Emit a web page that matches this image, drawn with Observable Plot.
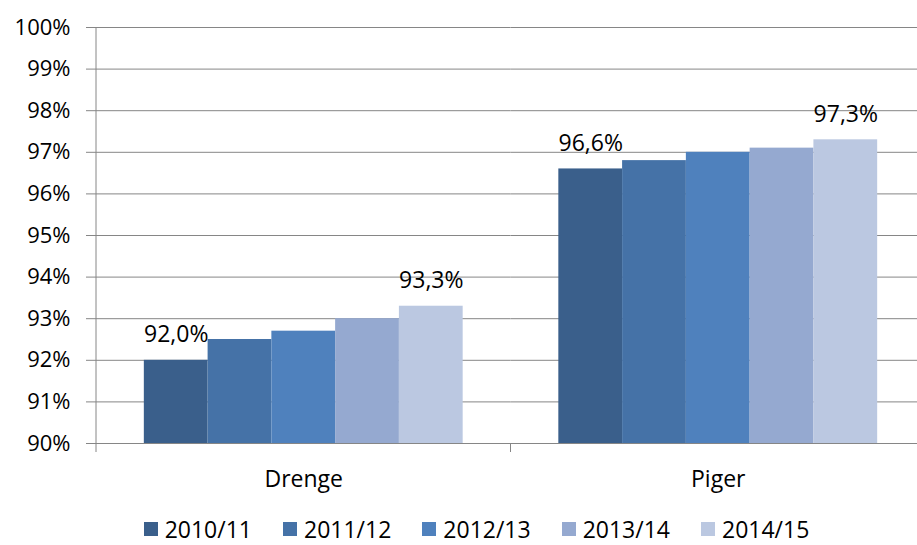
<!DOCTYPE html>
<html><head><meta charset="utf-8">
<script src="https://cdn.jsdelivr.net/npm/d3@7"></script>
<script src="https://cdn.jsdelivr.net/npm/@observablehq/plot@0.6"></script>
<style>
body{margin:0;background:#fff;font-family:"Open Sans",sans-serif;width:917px;}
#chart svg{display:block}
#legend{display:flex;justify-content:center;gap:31px;padding-top:16px;padding-left:36px;font-size:23px;color:#000}
.item{display:flex;align-items:center;white-space:nowrap}
.sw{width:14px;height:14px;margin-right:7px;flex:none}
</style></head><body><div id="chart"></div><div id="legend"></div>
<script>
const groups = ["Drenge", "Piger"];
const years = ["2010/11", "2011/12", "2012/13", "2013/14", "2014/15"];
const drenge = [92.0, 92.5, 92.7, 93.0, 93.3];
const piger = [96.6, 96.8, 97.0, 97.1, 97.3];
const yTicks = [90, 91, 92, 93, 94, 95, 96, 97, 98, 99, 100];
const colors = ["#3a5f8b", "#4572a7", "#4f81bd", "#95a9d0", "#bbc8e1"];
const labelledYears = ["2010/11", "2014/15"];

const series = {Drenge: drenge, Piger: piger};
const rows = [];
for (const g of groups) years.forEach((yr, i) => rows.push({group: g, year: yr, value: series[g][i]}));
const labels = rows.filter(d => labelledYears.includes(d.year));
const fmt = v => v.toFixed(1).replace(".", ",") + "%";

const grid = "#868686";
const chart = Plot.plot({
  width: 917, height: 497,
  marginTop: 27, marginBottom: 54, marginLeft: 96, marginRight: -8,
  style: {fontFamily: "'Open Sans', sans-serif", fontSize: "22px", color: "#000", background: "#fff", overflow: "visible"},
  fx: {domain: groups, padding: 0, round: false, label: null},
  x: {domain: years, paddingInner: 0, paddingOuter: 0.75, round: false, axis: null},
  y: {domain: [90, 100], label: null},
  color: {domain: years, range: colors},
  marks: [
    Plot.gridY(yTicks, {stroke: grid, strokeOpacity: 1}),
    Plot.barY(rows, {fx: "group", x: "year", y1: 90, y2: "value", fill: "year"}),
    Plot.ruleY([90], {stroke: grid}),
    Plot.text(labels, {fx: "group", x: "year", y: "value", text: d => fmt(d.value), lineAnchor: "bottom", dy: -18, fontSize: 23, fill: "#000"}),
    Plot.axisY(yTicks, {tickSize: 10, tickPadding: 16, tickFormat: d => d + "%", stroke: grid, fontSize: 22, label: null}),
    Plot.axisFx({anchor: "bottom", tickSize: 0, tickPadding: 27, fontSize: 23, label: null})
  ]
});
document.getElementById("chart").appendChild(chart);

// axis line and category boundary ticks from Plot scales
const fx = chart.scale("fx"), y = chart.scale("y");
const svg = d3.select(chart);
const x0 = fx.apply(groups[0]);
const yb = y.apply(90);
svg.append("line").attr("x1", x0).attr("x2", x0).attr("y1", y.apply(100)).attr("y2", yb).attr("stroke", grid);
const bounds = new Set();
for (const g of groups) { bounds.add(fx.apply(g)); bounds.add(fx.apply(g) + fx.bandwidth); }
for (const b of bounds) svg.append("line").attr("x1", b).attr("x2", b).attr("y1", yb).attr("y2", yb + 9).attr("stroke", grid);

const legend = d3.select("#legend");
years.forEach((yr, i) => {
  const it = legend.append("div").attr("class", "item");
  it.append("div").attr("class", "sw").style("background", colors[i]);
  it.append("span").text(yr);
});
</script></body></html>
